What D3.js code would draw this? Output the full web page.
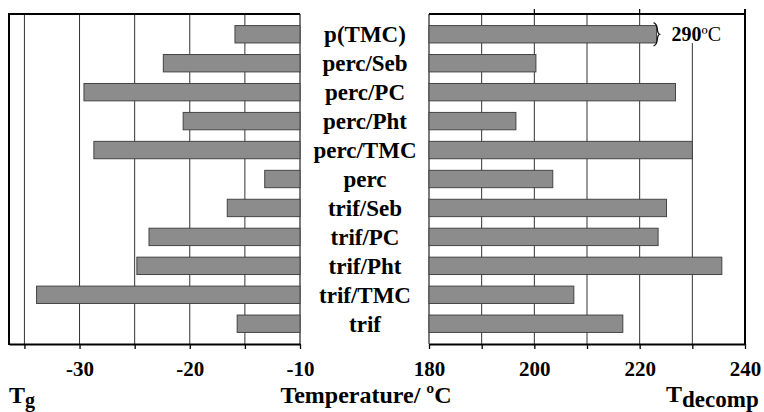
<!DOCTYPE html>
<html>
<head>
<meta charset="utf-8">
<script src="https://cdn.jsdelivr.net/npm/d3@7"></script>
<style>
  body { margin: 0; background: #fff; }
  text { font-family: 'Liberation Serif', 'Times New Roman', serif; font-weight: bold; fill: #000; }
</style>
</head>
<body>
<div id="chart"></div>
<script>
var samples = ['p(TMC)', 'perc/Seb', 'perc/PC', 'perc/Pht', 'perc/TMC', 'perc',
               'trif/Seb', 'trif/PC', 'trif/Pht', 'trif/TMC', 'trif'];
// glass transition, °C
var tg = [-15.9, -22.4, -29.6, -20.6, -28.7, -13.2, -16.6, -23.7, -24.8, -33.9, -15.7];
// decomposition temperature, °C (p(TMC) is 290, drawn with an axis break)
var tdecomp = [290, 200.3, 226.8, 196.5, 230.0, 203.5, 225.1, 223.5, 235.6, 207.5, 216.8];
var breakValue = 223.2;

var tgTicks = [-35, -30, -25, -20, -15, -10];
var tgLabels = [-30, -20, -10];
var tdTicks = [180, 190, 200, 210, 220, 230, 240];
var tdLabels = [180, 200, 220, 240];

var width = 764, height = 412;
var yTop = 14, yBottom = 344;

var svg = d3.select('#chart').append('svg')
    .attr('width', width)
    .attr('height', height);

var xL = d3.scaleLinear().domain([-36.4, -10]).range([9, 300]);
var xR = d3.scaleLinear().domain([180, 240]).range([429, 745]);
var y = d3.scaleBand().domain(samples).range([yTop, yBottom]).padding(0.4);

// grid lines
svg.selectAll('.gridL')
    .data(tgTicks.slice(0, -1))
    .enter().append('line')
    .attr('x1', function(d) { return xL(d); })
    .attr('x2', function(d) { return xL(d); })
    .attr('y1', yTop).attr('y2', yBottom)
    .attr('stroke', '#333').attr('stroke-width', 1);

svg.selectAll('.gridR')
    .data(tdTicks.slice(1, -1))
    .enter().append('line')
    .attr('x1', function(d) { return xR(d); })
    .attr('x2', function(d) { return xR(d); })
    .attr('y1', function(d) { return d === 230 ? 43 : yTop; })
    .attr('y2', yBottom)
    .attr('stroke', '#333').attr('stroke-width', 1);

// inner panel edges
svg.append('line').attr('x1', xL(-10)).attr('x2', xL(-10)).attr('y1', yTop).attr('y2', yBottom)
    .attr('stroke', '#222').attr('stroke-width', 1.2);
svg.append('line').attr('x1', xR(180)).attr('x2', xR(180)).attr('y1', yTop).attr('y2', yBottom)
    .attr('stroke', '#222').attr('stroke-width', 1.2);

// bars
svg.selectAll('.barL')
    .data(tg)
    .enter().append('rect')
    .attr('x', function(d) { return xL(d); })
    .attr('y', function(d, i) { return y(samples[i]); })
    .attr('width', function(d) { return xL(-10) - xL(d); })
    .attr('height', y.bandwidth())
    .attr('fill', '#8c8c8c')
    .attr('stroke', '#444')
    .attr('stroke-width', 1);

svg.selectAll('.barR')
    .data(tdecomp)
    .enter().append('rect')
    .attr('x', xR(180))
    .attr('y', function(d, i) { return y(samples[i]); })
    .attr('width', function(d) { return xR(d > 240 ? breakValue : d) - xR(180); })
    .attr('height', y.bandwidth())
    .attr('fill', '#8c8c8c')
    .attr('stroke', '#444')
    .attr('stroke-width', 1);

// axis break on p(TMC)
var bx = xR(breakValue), by = y(samples[0]), bh = y.bandwidth();
svg.append('path')
    .attr('d', 'M' + (bx - 3) + ',' + (by - 3) +
               ' C' + (bx + 3) + ',' + (by - 1) + ' ' + (bx - 1) + ',' + (by + 7) + ' ' + (bx + 3) + ',' + (by + bh / 2) +
               ' C' + (bx - 1) + ',' + (by + bh - 7) + ' ' + (bx + 3) + ',' + (by + bh + 1) + ' ' + (bx - 3) + ',' + (by + bh + 3))
    .attr('fill', 'none')
    .attr('stroke', '#111')
    .attr('stroke-width', 1.3);

var lbl = svg.append('text')
    .attr('x', bx + 15)
    .attr('y', by + bh / 2 + 7)
    .attr('font-size', '20px');
lbl.append('tspan').text(tdecomp[0]);
lbl.append('tspan').attr('font-weight', 'normal').text('ºC');

// frame
svg.append('line').attr('x1', xL.range()[0]).attr('x2', xL(-10)).attr('y1', yTop).attr('y2', yTop)
    .attr('stroke', '#000').attr('stroke-width', 2);
svg.append('line').attr('x1', xR(180)).attr('x2', xR(240)).attr('y1', yTop).attr('y2', yTop)
    .attr('stroke', '#000').attr('stroke-width', 2);
svg.append('line').attr('x1', xL.range()[0]).attr('x2', xL.range()[0]).attr('y1', yTop - 1).attr('y2', yBottom + 1)
    .attr('stroke', '#000').attr('stroke-width', 2);
svg.append('line').attr('x1', xR(240)).attr('x2', xR(240)).attr('y1', yTop - 5).attr('y2', yBottom + 1)
    .attr('stroke', '#000').attr('stroke-width', 2);

// top ticks on decomposition panel
svg.selectAll('.tickTop')
    .data([200, 220])
    .enter().append('line')
    .attr('x1', function(d) { return xR(d); })
    .attr('x2', function(d) { return xR(d); })
    .attr('y1', yTop - 5).attr('y2', yTop)
    .attr('stroke', '#000').attr('stroke-width', 1.2);

// bottom axes
var axL = d3.axisBottom(xL).tickValues(tgTicks).tickSize(5).tickSizeOuter(0)
    .tickFormat(function(d) { return tgLabels.indexOf(d) >= 0 ? d : ''; });
var axR = d3.axisBottom(xR).tickValues(tdTicks).tickSize(5).tickSizeOuter(0)
    .tickFormat(function(d) { return tdLabels.indexOf(d) >= 0 ? d : ''; });

[axL, axR].forEach(function(ax) {
    var g = svg.append('g')
        .attr('transform', 'translate(0,' + yBottom + ')')
        .call(ax);
    g.select('.domain').attr('stroke-width', 2);
    g.selectAll('.tick line').attr('stroke-width', 1.3);
    g.selectAll('.tick text')
        .attr('dy', '0')
        .attr('y', 32)
        .attr('font-size', '21px')
        .attr('font-family', "'Liberation Serif', serif")
        .attr('font-weight', 'bold');
});

// category labels
svg.selectAll('.cat')
    .data(samples)
    .enter().append('text')
    .attr('x', 365)
    .attr('y', function(d) { return y(d) + y.bandwidth() / 2 + 8; })
    .attr('text-anchor', 'middle')
    .attr('font-size', '23px')
    .text(function(d) { return d; });

// axis titles
var tgT = svg.append('text').attr('x', 9).attr('y', 403).attr('font-size', '24px');
tgT.append('tspan').text('T');
tgT.append('tspan').attr('font-size', '20px').attr('dy', 4).text('g');

svg.append('text')
    .attr('x', 366).attr('y', 403)
    .attr('text-anchor', 'middle')
    .attr('font-size', '24px')
    .text('Temperature/ ºC');

var tdT = svg.append('text').attr('x', 666).attr('y', 402).attr('font-size', '24px');
tdT.append('tspan').text('T');
tdT.append('tspan').attr('font-size', '23px').attr('dy', 5).text('decomp');
</script>
</body>
</html>
